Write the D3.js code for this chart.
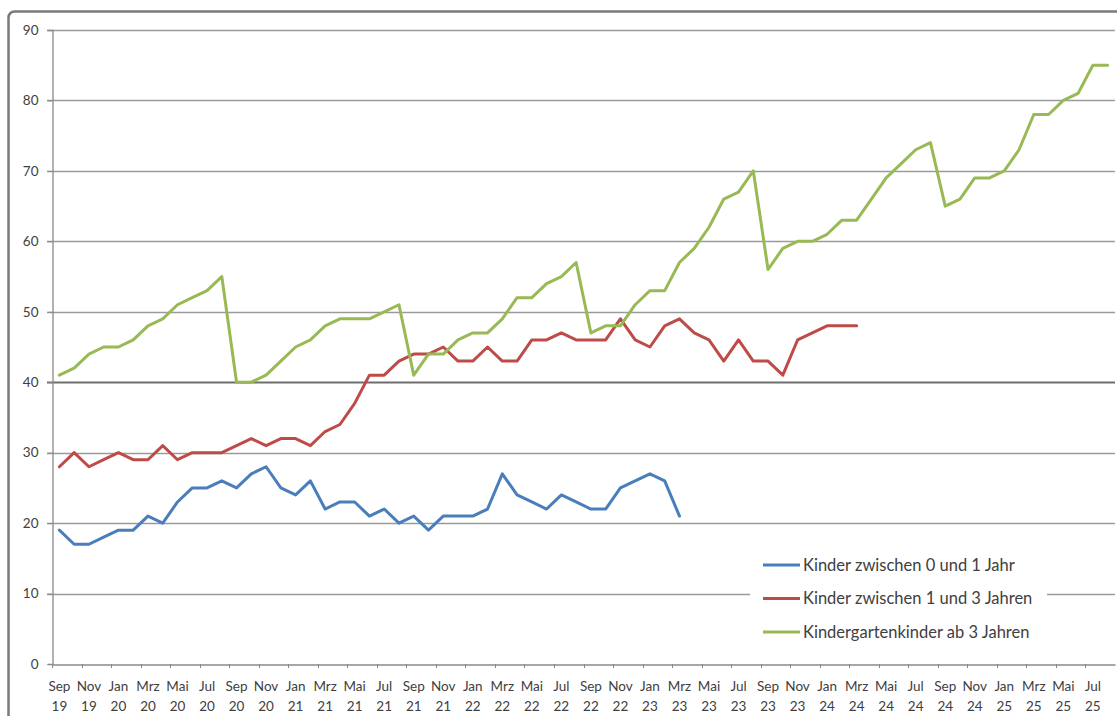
<!DOCTYPE html>
<html>
<head>
<meta charset="utf-8">
<script src="https://cdn.jsdelivr.net/npm/d3@7/dist/d3.min.js"></script>
<style>
  html, body { margin: 0; padding: 0; background: #fff; }
  svg { display: block; }
  text { font-family: Lato, "Open Sans", sans-serif; fill: #404040; }
</style>
</head>
<body>
<svg id="chart" width="1117" height="716"></svg>
<script>
// ---- data ----
const monthNames = ["Sep","Okt","Nov","Dez","Jan","Feb","Mrz","Apr","Mai","Jun","Jul","Aug"];
const startYear = 19;
const categories = d3.range(72).map(i => {
  const m = monthNames[i % 12];
  const yr = startYear + Math.floor((i + 8) / 12);
  return m + " " + yr;
});
const tickLabels = categories.filter((d, i) => i % 2 === 0);

const seriesNames = [
  "Kinder zwischen 0 und 1 Jahr",
  "Kinder zwischen 1 und 3 Jahren",
  "Kindergartenkinder ab 3 Jahren"
];

const kinder0bis1 = [
  19,17,17,18,19,19,21,20,23,25,25,26,
  25,27,28,25,24,26,22,23,23,21,22,20,
  21,19,21,21,21,22,27,24,23,22,24,23,
  22,22,25,26,27,26,21
];
const kinder1bis3 = [
  28,30,28,29,30,29,29,31,29,30,30,30,
  31,32,31,32,32,31,33,34,37,41,41,43,
  44,44,45,43,43,45,43,43,46,46,47,46,
  46,46,49,46,45,48,49,47,46,43,46,43,
  43,41,46,47,48,48,48
];
const kindergarten = [
  41,42,44,45,45,46,48,49,51,52,53,55,
  40,40,41,43,45,46,48,49,49,49,50,51,
  41,44,44,46,47,47,49,52,52,54,55,57,
  47,48,48,51,53,53,57,59,62,66,67,70,
  56,59,60,60,61,63,63,66,69,71,73,74,
  65,66,69,69,70,73,78,78,80,81,85,85
];
const yTicks = [0,10,20,30,40,50,60,70,80,90];
const colors = ["#4A7EBB", "#BE4B48", "#98B954"];

// ---- layout ----
const svg = d3.select("#chart");
const plot = { left: 52, right: 1115, top: 30, bottom: 664 };

const x = d3.scaleBand().domain(categories).range([plot.left, plot.right]).padding(0);
const y = d3.scaleLinear().domain([0, 90]).range([plot.bottom, plot.top]);
const cx = c => x(c) + x.bandwidth() / 2;

// outer frame
svg.append("rect")
  .attr("x", 8.5).attr("y", 11.5)
  .attr("width", 1130).attr("height", 730)
  .attr("rx", 6)
  .attr("fill", "none").attr("stroke", "#7a7a7a").attr("stroke-width", 2.5);

// gridlines
svg.append("g").selectAll("line")
  .data(yTicks.filter(d => d > 0))
  .join("line")
  .attr("x1", plot.left - 5).attr("x2", plot.right)
  .attr("y1", d => Math.round(y(d)) + 0.5).attr("y2", d => Math.round(y(d)) + 0.5)
  .attr("stroke", d => d === 40 ? "#6e6e6e" : "#9a9a9a")
  .attr("stroke-width", d => d === 40 ? 1.8 : 1.3);

// y axis
const yAxis = svg.append("g")
  .attr("transform", `translate(${plot.left + 0.5},0)`)
  .call(d3.axisLeft(y).tickValues(yTicks).tickSize(5).tickPadding(9));
yAxis.select(".domain").attr("stroke", "#8a8a8a").attr("stroke-width", 1.3);
yAxis.selectAll(".tick line").attr("stroke", "#8a8a8a");
yAxis.selectAll("text").attr("font-size", 13.5).attr("fill", "#404040")
  .style("font-family", "Lato, sans-serif");

// x axis (labels)
const xAxis = svg.append("g")
  .attr("transform", `translate(0,${plot.bottom + 0.5})`)
  .call(d3.axisBottom(x).tickValues(tickLabels).tickSize(0).tickPadding(0));
xAxis.select(".domain").attr("stroke", "#8a8a8a").attr("stroke-width", 1.5);
xAxis.selectAll(".tick text").each(function(d) {
  const parts = d.split(" ");
  const t = d3.select(this).text(null)
    .attr("font-size", 13.5).attr("fill", "#404040")
    .style("font-family", "Lato, sans-serif")
    .attr("y", 0).attr("dy", null);
  t.append("tspan").attr("x", 0).attr("y", 26).text(parts[0]);
  t.append("tspan").attr("x", 0).attr("y", 46).text(parts[1]);
});
// x tick marks at category boundaries (every 2 months)
svg.append("g").selectAll("line")
  .data(tickLabels)
  .join("line")
  .attr("x1", d => Math.round(x(d)) + 0.5).attr("x2", d => Math.round(x(d)) + 0.5)
  .attr("y1", plot.bottom).attr("y2", plot.bottom + 4)
  .attr("stroke", "#8a8a8a");

// lines
const allSeries = [kinder0bis1, kinder1bis3, kindergarten];
const line = d3.line()
  .x((d, i) => cx(categories[i]))
  .y(d => y(d));
svg.append("g").selectAll("path")
  .data(allSeries)
  .join("path")
  .attr("d", d => line(d))
  .attr("fill", "none")
  .attr("stroke", (d, i) => colors[i])
  .attr("stroke-width", 3)
  .attr("stroke-linejoin", "round")
  .attr("stroke-linecap", "round");

// legend
const legend = svg.append("g");
legend.append("rect")
  .attr("x", 750).attr("y", 548).attr("width", 297).attr("height", 102)
  .attr("fill", "#fff");
const rows = legend.selectAll("g.row")
  .data(seriesNames)
  .join("g").attr("class", "row")
  .attr("transform", (d, i) => `translate(763,${565 + i * 33.5})`);
rows.append("line")
  .attr("x1", 0).attr("x2", 37).attr("y1", 0).attr("y2", 0)
  .attr("stroke", (d, i) => colors[i]).attr("stroke-width", 3);
rows.append("text")
  .attr("x", 40).attr("y", 0).attr("dy", "0.35em")
  .attr("font-size", 16.5)
  .text(d => d);
</script>
</body>
</html>
